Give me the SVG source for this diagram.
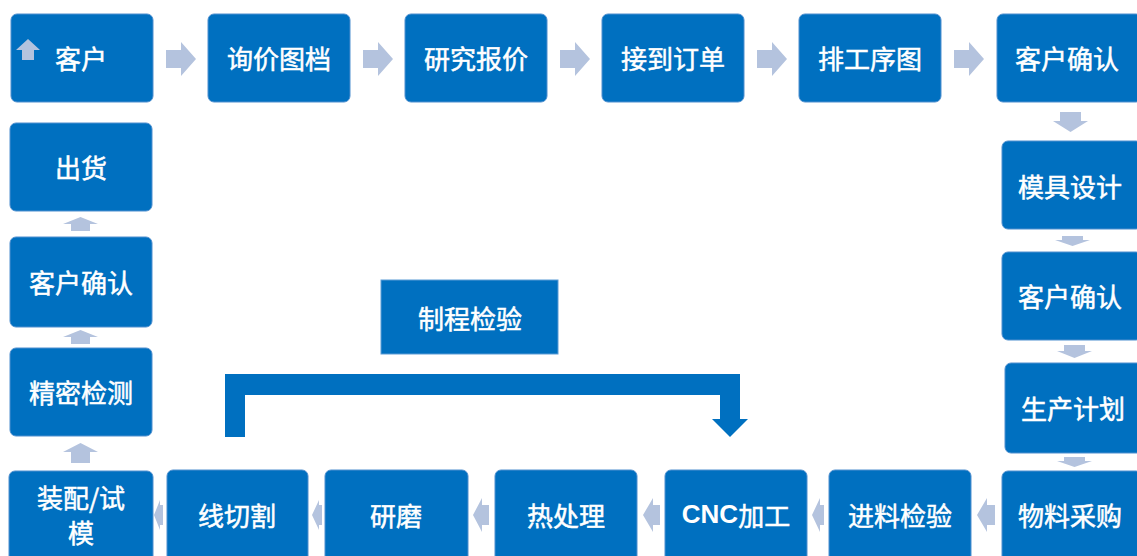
<svg xmlns="http://www.w3.org/2000/svg" width="1137" height="556" viewBox="0 0 1137 556">
<style>
.box{fill:#0070C0;stroke:#4F8FCF;stroke-width:1}
.sq{fill:#0070C0;stroke:#5B9BD5;stroke-width:1}
.t{fill:#ffffff;stroke:#ffffff;stroke-width:0.5;font-family:"Noto Sans CJK SC","Noto Sans",sans-serif;font-size:26px;font-weight:normal;text-anchor:middle;dominant-baseline:central}
.b{font-family:"Liberation Sans","Noto Sans CJK SC",sans-serif;font-weight:bold;stroke-width:0}
.ar{fill:#B4C3DE}
.br{fill:#0070C0}
</style>
<rect width="1137" height="556" fill="#ffffff"/>
<!-- top row -->
<g id="n1"><rect class="box" x="11" y="14" width="142" height="88" rx="6"/><path class="ar" d="M28,39 L40,50 L34,50 L34,60 L22,60 L22,50 L16,50 Z"/><text class="t" x="81" y="57">客户</text></g>
<g id="n2"><rect class="box" x="208" y="14" width="142" height="88" rx="6"/><text class="t" x="279" y="57">询价图档</text></g>
<g id="n3"><rect class="box" x="405" y="14" width="142" height="88" rx="6"/><text class="t" x="476" y="57">研究报价</text></g>
<g id="n4"><rect class="box" x="602" y="14" width="142" height="88" rx="6"/><text class="t" x="673" y="57">接到订单</text></g>
<g id="n5"><rect class="box" x="799" y="14" width="142" height="88" rx="6"/><text class="t" x="870" y="57">排工序图</text></g>
<g id="n6"><rect class="box" x="997" y="14" width="145" height="88" rx="6"/><text class="t" x="1067" y="57">客户确认</text></g>
<!-- right column -->
<g id="n7"><rect class="box" x="1002" y="141" width="140" height="88" rx="6"/><text class="t" x="1070" y="185">模具设计</text></g>
<g id="n8"><rect class="box" x="1002" y="252" width="140" height="88" rx="6"/><text class="t" x="1070" y="295">客户确认</text></g>
<g id="n9"><rect class="box" x="1005" y="363" width="140" height="90" rx="6"/><text class="t" x="1073" y="407">生产计划</text></g>
<g id="n10"><rect class="box" x="1002" y="471" width="140" height="95" rx="6"/><text class="t" x="1070" y="514">物料采购</text></g>
<!-- bottom row -->
<g id="n11"><rect class="box" x="829" y="470" width="142" height="95" rx="6"/><text class="t" x="900" y="514">进料检验</text></g>
<g id="n12"><rect class="box" x="665" y="470" width="142" height="95" rx="6"/><text class="t" x="736" y="514"><tspan class="b">CNC</tspan>加工</text></g>
<g id="n13"><rect class="box" x="495" y="470" width="142" height="95" rx="6"/><text class="t" x="566" y="514">热处理</text></g>
<g id="n14"><rect class="box" x="325" y="470" width="143" height="95" rx="6"/><text class="t" x="396" y="514">研磨</text></g>
<g id="n15"><rect class="box" x="167" y="470" width="141" height="95" rx="6"/><text class="t" x="237" y="514">线切割</text></g>
<g id="n16"><rect class="box" x="9" y="471" width="144" height="95" rx="6"/><text class="t" x="81" y="496">装配/试</text><text class="t" x="81" y="531">模</text></g>
<!-- left column -->
<g id="n17"><rect class="box" x="10" y="348" width="142" height="88" rx="6"/><text class="t" x="81" y="391">精密检测</text></g>
<g id="n18"><rect class="box" x="10" y="237" width="142" height="90" rx="6"/><text class="t" x="81" y="281">客户确认</text></g>
<g id="n19"><rect class="box" x="10" y="123" width="142" height="88" rx="6"/><text class="t" x="81" y="166">出货</text></g>
<!-- inspection -->
<g id="n20"><rect class="sq" x="381" y="280" width="177" height="74"/><text class="t" x="470" y="317">制程检验</text></g>
<g id="connectors">
<!-- right arrows top row -->
<path class="ar" d="M166,50 H181 V42 L196,59 L181,76 V68 H166 Z"/>
<path class="ar" d="M363,50 H378 V42 L393,59 L378,76 V68 H363 Z"/>
<path class="ar" d="M560,50 H575 V42 L590,59 L575,76 V68 H560 Z"/>
<path class="ar" d="M757,50 H772 V42 L787,59 L772,76 V68 H757 Z"/>
<path class="ar" d="M954,50 H969 V42 L984,59 L969,76 V68 H954 Z"/>
<!-- down arrows right column -->
<path class="ar" d="M1060,112 H1081 V121 H1088 L1070.5,132 L1053,121 H1060 Z"/>
<path class="ar" d="M1062,236 H1083 V240 H1090 L1072.5,246 L1055,240 H1062 Z"/>
<path class="ar" d="M1064,345 H1085 V351 H1092 L1074.5,358 L1057,351 H1064 Z"/>
<path class="ar" d="M1064,457 H1085 V461 H1092 L1074.5,467 L1057,461 H1064 Z"/>
<!-- left arrows bottom row -->
<path class="ar" d="M977,515 L987,498 V505 H995 V525 H987 V532 Z"/>
<path class="ar" d="M812,515 L820,498 V505 H824 V525 H820 V532 Z"/>
<path class="ar" d="M643,515 L653,498 V505 H660 V525 H653 V532 Z"/>
<path class="ar" d="M473,515 L482,498 V505 H489 V525 H482 V532 Z"/>
<path class="ar" d="M312,515 L319,500 V505 H322 V525 H319 V530 Z"/>
<path class="ar" d="M154,515 L160,500 V505 H163 V525 H160 V530 Z"/>
<!-- up arrows left column -->
<path class="ar" d="M63,452 L80.5,443 L98,452 H90 V463 H71 V452 Z"/>
<path class="ar" d="M63,337 L80.5,330 L98,337 H90 V344 H71 V337 Z"/>
<path class="ar" d="M63,224 L80.5,217 L98,224 H90 V231 H71 V224 Z"/>
<!-- bracket -->
<path class="br" d="M225,437 V374 H740 V419 H748 L730,437 L712,419 H720 V395 H245 V437 Z"/>
</g>
</svg>
